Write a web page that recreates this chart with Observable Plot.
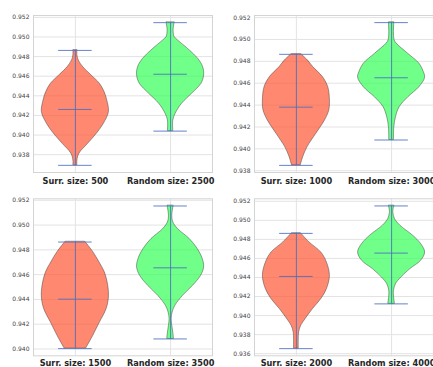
<!DOCTYPE html>
<html>
<head>
<meta charset="utf-8">
<script src="https://cdn.jsdelivr.net/npm/d3@7"></script>
<script src="https://cdn.jsdelivr.net/npm/@observablehq/plot@0.6"></script>
<style>
  html, body { margin: 0; padding: 0; background: white; overflow: hidden; }
  #wrap { position: relative; width: 433px; height: 367px; overflow: hidden; }
  .p { position: absolute; }
</style>
</head>
<body>
<div id="wrap"></div>
<script>
// ---- data ----
const surrLabels = ["Surr. size: 500", "Surr. size: 1000", "Surr. size: 1500", "Surr. size: 2000"];
const randLabels = ["Random size: 2500", "Random size: 3000", "Random size: 3500", "Random size: 4000"];

const surrMin  = [0.93691, 0.93849, 0.94003, 0.93653];
const surrMax  = [0.94863, 0.94864, 0.94863, 0.94863];
const surrMean = [0.94261, 0.94381, 0.94402, 0.94411];
const randMin  = [0.94040, 0.94081, 0.94081, 0.94123];
const randMax  = [0.95146, 0.95154, 0.95154, 0.95151];
const randMean = [0.94620, 0.94650, 0.94655, 0.94656];

// density profiles: [value, relative density]
const surrProfile500 = [[0.94863,0.06],[0.94812,0.06],[0.94761,0.10],[0.94693,0.23],[0.94608,0.48],[0.94523,0.73],[0.94438,0.87],[0.94353,0.95],[0.94234,1.0],[0.94115,0.85],[0.94013,0.64],[0.93911,0.38],[0.93810,0.12],[0.93741,0.06],[0.93691,0.06]];
const randProfile2500 = [[0.95146,0.12],[0.95067,0.09],[0.94999,0.12],[0.94965,0.22],[0.94863,0.57],[0.94778,0.82],[0.94693,0.97],[0.94608,1.0],[0.94523,0.92],[0.94421,0.64],[0.94319,0.34],[0.94217,0.15],[0.94149,0.08],[0.94040,0.08]];
const surrProfile1000 = [[0.94864,0.15],[0.94809,0.34],[0.94748,0.50],[0.94656,0.79],[0.94564,0.95],[0.94442,1.0],[0.94350,0.98],[0.94258,0.85],[0.94136,0.59],[0.94014,0.33],[0.93922,0.20],[0.93849,0.13]];
const randProfile3000 = [[0.95154,0.08],[0.95053,0.07],[0.94992,0.09],[0.94962,0.15],[0.94870,0.49],[0.94778,0.83],[0.94702,0.96],[0.94650,1.0],[0.94564,0.83],[0.94472,0.50],[0.94381,0.24],[0.94289,0.13],[0.94197,0.08],[0.94081,0.07]];
const surrProfile1500 = [[0.94863,0.30],[0.94779,0.54],[0.94698,0.72],[0.94617,0.88],[0.94510,0.98],[0.94415,1.0],[0.94321,0.93],[0.94213,0.73],[0.94105,0.53],[0.94003,0.32]];
const randProfile3500 = [[0.95154,0.09],[0.95076,0.05],[0.95022,0.08],[0.94968,0.22],[0.94887,0.57],[0.94806,0.81],[0.94725,0.96],[0.94658,1.0],[0.94591,0.91],[0.94510,0.67],[0.94429,0.37],[0.94348,0.14],[0.94294,0.06],[0.94240,0.03],[0.94186,0.05],[0.94132,0.08],[0.94081,0.10]];
const surrProfile2000 = [[0.94863,0.14],[0.94768,0.39],[0.94663,0.74],[0.94558,0.91],[0.94418,1.0],[0.94277,0.91],[0.94172,0.74],[0.94067,0.49],[0.93961,0.27],[0.93891,0.14],[0.93821,0.08],[0.93751,0.07],[0.93653,0.07]];
const randProfile4000 = [[0.95151,0.08],[0.95084,0.05],[0.95014,0.10],[0.94944,0.26],[0.94839,0.64],[0.94751,0.88],[0.94663,1.0],[0.94575,0.88],[0.94488,0.56],[0.94400,0.29],[0.94330,0.13],[0.94260,0.07],[0.94207,0.07],[0.94123,0.10]];

const surrProfiles = [surrProfile500, surrProfile1000, surrProfile1500, surrProfile2000];
const randProfiles = [randProfile2500, randProfile3000, randProfile3500, randProfile4000];

const yLimits = [[0.93618, 0.95219], [0.93784, 0.95219], [0.93945, 0.95212], [0.93578, 0.95226]];
const yTicks = [
  [0.938, 0.940, 0.942, 0.944, 0.946, 0.948, 0.950, 0.952],
  [0.938, 0.940, 0.942, 0.944, 0.946, 0.948, 0.950, 0.952],
  [0.940, 0.942, 0.944, 0.946, 0.948, 0.950, 0.952],
  [0.936, 0.938, 0.940, 0.942, 0.944, 0.946, 0.948, 0.950, 0.952]
];

// ---- style ----
const HALF = 0.352;   // violin half width at density 1
const BAR = 0.176;    // half length of the extrema/mean bars
const surrColor = "#FF5733";
const randColor = "#33FF57";
const lineColor = "#4a6fbf";

const layout = [
  {left: 0,   top: 0,   width: 216, height: 190, ml: 33, mr: 4,  mt: 15,   mb: 18,   pad: 5.5},
  {left: 216, top: 0,   width: 230, height: 190, ml: 38, mr: 13, mt: 15,   mb: 18,   pad: 5.5},
  {left: 0,   top: 183, width: 216, height: 184, ml: 33, mr: 4,  mt: 15.3, mb: 11.7, pad: 4.5},
  {left: 216, top: 183, width: 230, height: 184, ml: 38, mr: 13, mt: 15.3, mb: 11.7, pad: 4.5}
];

function violinMarks(profile, c, color, mn, mx, mean) {
  const rows = profile.map(([v, d]) => ({v, d}));
  return [
    Plot.areaX(rows, {
      y: "v",
      x1: r => c - r.d * HALF,
      x2: r => c + r.d * HALF,
      curve: "catmull-rom",
      fill: color, fillOpacity: 0.7,
      stroke: "#3a3a3a", strokeWidth: 0.6, strokeOpacity: 0.8
    }),
    Plot.ruleX([c], {y1: mn, y2: mx, stroke: lineColor, strokeWidth: 1, strokeOpacity: 0.85}),
    Plot.ruleY([mn, mean, mx], {x1: c - BAR, x2: c + BAR, stroke: lineColor, strokeWidth: 1, strokeOpacity: 0.85})
  ];
}

const wrap = document.getElementById("wrap");
for (let i = 0; i < 4; i++) {
  const L = layout[i];
  const labels = [surrLabels[i], randLabels[i]];
  const chart = Plot.plot({
    width: L.width, height: L.height,
    marginLeft: L.ml, marginRight: L.mr, marginTop: L.mt, marginBottom: L.mb,
    style: {fontFamily: "DejaVu Sans", background: "transparent", overflow: "visible"},
    x: {domain: [0.56, 2.44], axis: null},
    y: {domain: yLimits[i], axis: null},
    marks: [
      Plot.gridY(yTicks[i], {stroke: "#e3e3e3", strokeOpacity: 1, strokeWidth: 1}),
      Plot.gridX([1, 2], {stroke: "#e3e3e3", strokeOpacity: 1, strokeWidth: 1}),
      Plot.frame({stroke: "#d4d4d4", strokeWidth: 1}),
      ...violinMarks(surrProfiles[i], 1, surrColor, surrMin[i], surrMax[i], surrMean[i]),
      ...violinMarks(randProfiles[i], 2, randColor, randMin[i], randMax[i], randMean[i]),
      Plot.axisX([1, 2], {
        tickFormat: d => labels[d - 1], tickSize: 0, tickPadding: L.pad,
        fontSize: 8.2, fontWeight: "bold", fill: "#262626", label: null
      }),
      Plot.axisY(yTicks[i], {
        tickFormat: d3.format(".3f"), tickSize: 0, tickPadding: 4,
        fontSize: 6, fill: "#444", label: null
      })
    ]
  });
  chart.classList.add("p");
  chart.style.left = L.left + "px";
  chart.style.top = L.top + "px";
  wrap.appendChild(chart);
}
</script>
</body>
</html>
